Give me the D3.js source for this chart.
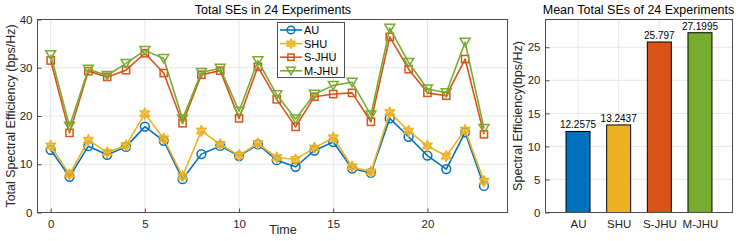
<!DOCTYPE html>
<html>
<head>
<meta charset="utf-8">
<script src="https://cdn.jsdelivr.net/npm/d3@7"></script>
<style>
  body { margin: 0; background: #fff; }
  svg { display: block; font-family: "Liberation Sans", Arial, sans-serif; }
</style>
</head>
<body>
<svg id="chart" width="747" height="241"></svg>
<script>
const experiments = d3.range(24);
const seriesNames = ["AU", "SHU", "S-JHU", "M-JHU"];
const AU    = [13.0, 7.4, 13.75, 11.95, 13.6, 17.8, 14.85, 6.9, 12.1, 13.8, 11.7, 14.1, 10.85, 9.46, 12.85, 14.6, 9.1, 8.2, 19.5, 15.7, 11.8, 9.0, 16.6, 5.5];
const SHU   = [13.8, 7.9, 15.0, 12.45, 13.9, 20.5, 15.3, 7.5, 16.9, 14.1, 11.85, 14.3, 11.4, 11.0, 13.4, 15.5, 9.5, 8.4, 20.75, 16.9, 13.8, 11.7, 17.1, 6.5];
const SJHU  = [31.5, 16.5, 29.3, 28.1, 29.5, 33.0, 28.9, 18.5, 28.55, 29.4, 19.5, 30.2, 23.45, 17.75, 24.0, 24.55, 24.8, 18.8, 36.4, 29.7, 24.8, 24.2, 31.8, 16.2];
const MJHU  = [32.7, 17.9, 29.7, 28.4, 30.9, 33.6, 31.9, 19.4, 29.0, 29.9, 21.0, 31.45, 24.4, 19.4, 24.5, 26.35, 27.0, 20.2, 38.2, 31.1, 25.6, 24.8, 35.3, 17.4];
const meanValues = [12.2575, 13.2437, 25.797, 27.1995];
const meanLabels = ["12.2575", "13.2437", "25.797", "27.1995"];
const leftYTicks = [0, 10, 20, 30, 40];
const leftXTicks = [0, 5, 10, 15, 20];
const rightYTicks = [0, 5, 10, 15, 20, 25];

const colors = ["#0072BD", "#EDB120", "#D95319", "#77AC30"];
const markers = ["circle", "star", "square", "triangle"];
const allSeries = [AU, SHU, SJHU, MJHU];

const svg = d3.select("#chart");
const textColor = "#262626";
const gridColor = "#e6e6e6";
const axisColor = "#4d4d4d";

// ---------- Left plot ----------
const L = {left: 37.5, right: 507.5, top: 19.5, bottom: 212.5};
const x = d3.scaleLinear().domain([-0.7, 24.25]).range([L.left, L.right]);
const y = d3.scaleLinear().domain([0, 40]).range([L.bottom, L.top]);

const gl = svg.append("g");
gl.selectAll(".vg").data(leftXTicks).join("line")
  .attr("x1", d => x(d)).attr("x2", d => x(d)).attr("y1", L.top).attr("y2", L.bottom)
  .attr("stroke", gridColor).attr("stroke-width", 1);
gl.selectAll(".hg").data(leftYTicks.slice(1, -1)).join("line")
  .attr("x1", L.left).attr("x2", L.right).attr("y1", d => y(d)).attr("y2", d => y(d))
  .attr("stroke", gridColor).attr("stroke-width", 1);

const xAxisL = d3.axisBottom(x).tickValues(leftXTicks).tickSize(-4).tickPadding(7).tickFormat(d3.format("d"));
const yAxisL = d3.axisLeft(y).tickValues(leftYTicks).tickSize(-4).tickPadding(5).tickFormat(d3.format("d"));
const gxL = gl.append("g").attr("transform", `translate(0,${L.bottom})`).call(xAxisL);
const gyL = gl.append("g").attr("transform", `translate(${L.left},0)`).call(yAxisL);
[gxL, gyL].forEach(g => {
  g.select(".domain").remove();
  g.selectAll(".tick line").attr("stroke", axisColor);
  g.selectAll(".tick text").attr("fill", textColor).style("font-size", "11.5px").style("font-family", "Liberation Sans, Arial, sans-serif");
});
gl.append("rect").attr("x", L.left).attr("y", L.top).attr("width", L.right - L.left).attr("height", L.bottom - L.top)
  .attr("fill", "none").attr("stroke", axisColor).attr("stroke-width", 1);

function drawMarker(g, type, cx, cy, color, s) {
  if (type === "circle") {
    g.append("circle").attr("cx", cx).attr("cy", cy).attr("r", s * 0.55)
      .attr("fill", "none").attr("stroke", color).attr("stroke-width", 1.5);
  } else if (type === "square") {
    g.append("rect").attr("x", cx - s * 0.45).attr("y", cy - s * 0.45).attr("width", s * 0.9).attr("height", s * 0.9)
      .attr("fill", "none").attr("stroke", color).attr("stroke-width", 1.5);
  } else if (type === "triangle") {
    const h = s * 0.62;
    g.append("path").attr("d", `M${cx - h},${cy - h * 0.8} L${cx + h},${cy - h * 0.8} L${cx},${cy + h * 0.9} Z`)
      .attr("fill", "none").attr("stroke", color).attr("stroke-width", 1.5);
  } else if (type === "star") {
    const pts = [];
    const ro = s * 0.7, ri = s * 0.36;
    for (let i = 0; i < 12; i++) {
      const a = -Math.PI / 2 + i * Math.PI / 6;
      const r = i % 2 === 0 ? ro : ri;
      pts.push([cx + r * Math.cos(a), cy + r * Math.sin(a)]);
    }
    g.append("path").attr("d", "M" + pts.map(p => p.join(",")).join("L") + "Z")
      .attr("fill", color).attr("fill-opacity", 0.75).attr("stroke", color).attr("stroke-width", 1.2).attr("stroke-linejoin", "round");
  }
}

const line = d3.line().x((d, i) => x(experiments[i])).y(d => y(d));
allSeries.forEach((vals, si) => {
  const g = gl.append("g");
  g.append("path").datum(vals).attr("d", line)
    .attr("fill", "none").attr("stroke", colors[si]).attr("stroke-width", 1.6).attr("stroke-linejoin", "round");
  vals.forEach((v, i) => drawMarker(g, markers[si], x(experiments[i]), y(v), colors[si], 8));
});

svg.append("text").attr("x", x(11.8)).attr("y", 14).attr("text-anchor", "middle")
  .attr("fill", "#000").style("font-size", "12.5px").text("Total SEs in 24 Experiments");
svg.append("text").attr("x", 283).attr("y", 234).attr("text-anchor", "middle")
  .attr("fill", textColor).style("font-size", "12.5px").text("Time");
svg.append("text").attr("transform", `translate(15,${(L.top + L.bottom) / 2}) rotate(-90)`).attr("text-anchor", "middle")
  .attr("fill", textColor).style("font-size", "12.5px").text("Total Spectral Efficiency (bps/Hz)");

const lg = svg.append("g");
lg.append("rect").attr("x", 277.5).attr("y", 22.5).attr("width", 67).attr("height", 55)
  .attr("fill", "#fff").attr("stroke", axisColor).attr("stroke-width", 1);
seriesNames.forEach((name, i) => {
  const ly = 30 + i * 13.6;
  lg.append("line").attr("x1", 280).attr("x2", 302).attr("y1", ly).attr("y2", ly)
    .attr("stroke", colors[i]).attr("stroke-width", 1.6);
  drawMarker(lg, markers[i], 291, ly, colors[i], 7);
  lg.append("text").attr("x", 304).attr("y", ly + 4).attr("fill", "#000").style("font-size", "11px").text(name);
});

// ---------- Right plot ----------
const R = {left: 545.5, right: 732.5, top: 19.5, bottom: 212.5};
const xb = d3.scaleLinear().domain([0.2, 4.8]).range([R.left, R.right]);
const yb = d3.scaleLinear().domain([0, 29.2]).range([R.bottom, R.top]);
const barW = 0.59 * (xb(2) - xb(1));
const gr = svg.append("g");

gr.selectAll(".vg").data(seriesNames).join("line")
  .attr("x1", (d, i) => xb(i + 1)).attr("x2", (d, i) => xb(i + 1)).attr("y1", R.top).attr("y2", R.bottom)
  .attr("stroke", gridColor);
gr.selectAll(".hg").data(rightYTicks.slice(1)).join("line")
  .attr("x1", R.left).attr("x2", R.right).attr("y1", d => yb(d)).attr("y2", d => yb(d))
  .attr("stroke", gridColor);

const xAxisR = d3.axisBottom(xb).tickValues([1, 2, 3, 4]).tickSize(-4).tickPadding(7).tickFormat(d => seriesNames[d - 1]);
const yAxisR = d3.axisLeft(yb).tickValues(rightYTicks).tickSize(-4).tickPadding(5).tickFormat(d3.format("d"));
const gxR = gr.append("g").attr("transform", `translate(0,${R.bottom})`).call(xAxisR);
const gyR = gr.append("g").attr("transform", `translate(${R.left},0)`).call(yAxisR);
[gxR, gyR].forEach(g => {
  g.select(".domain").remove();
  g.selectAll(".tick line").attr("stroke", axisColor);
  g.selectAll(".tick text").attr("fill", textColor).style("font-size", "11.5px").style("font-family", "Liberation Sans, Arial, sans-serif");
});

gr.selectAll(".bar").data(meanValues).join("rect")
  .attr("x", (d, i) => xb(i + 1) - barW / 2).attr("width", barW)
  .attr("y", d => yb(d)).attr("height", d => yb(0) - yb(d))
  .attr("fill", (d, i) => colors[i]).attr("stroke", "#000").attr("stroke-width", 1);
gr.selectAll(".bl").data(meanValues).join("text")
  .attr("x", (d, i) => xb(i + 1)).attr("y", d => yb(d) - 3).attr("text-anchor", "middle")
  .attr("fill", "#000").style("font-size", "10px").text((d, i) => meanLabels[i]);

gr.append("rect").attr("x", R.left).attr("y", R.top).attr("width", R.right - R.left).attr("height", R.bottom - R.top)
  .attr("fill", "none").attr("stroke", axisColor).attr("stroke-width", 1);

svg.append("text").attr("x", 638.5).attr("y", 14).attr("text-anchor", "middle")
  .attr("fill", "#000").style("font-size", "12.5px").text("Mean Total SEs of 24 Experiments");
svg.append("text").attr("transform", `translate(522,${(R.top + R.bottom) / 2}) rotate(-90)`).attr("text-anchor", "middle")
  .attr("fill", textColor).style("font-size", "12.5px").text("Spectral Efficiency(bps/Hz)");
</script>
</body>
</html>
